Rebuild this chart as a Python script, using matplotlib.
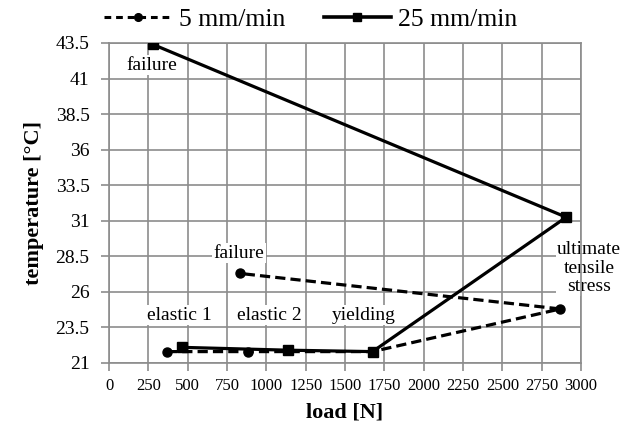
import matplotlib
matplotlib.use("Agg")
import matplotlib.pyplot as plt

# load [N] and temperature [°C] at each stage: elastic 1, elastic 2, yielding, UTS, failure
load_5 = [368, 882, 1675, 2868, 831]
temp_5 = [21.8, 21.8, 21.8, 24.8, 27.3]
load_25 = [463, 1136, 1675, 2906, 279]
temp_25 = [22.1, 21.9, 21.8, 31.25, 43.4]

x_ticks = list(range(0, 3001, 250))
y_ticks = [21, 23.5, 26, 28.5, 31, 33.5, 36, 38.5, 41, 43.5]

plt.rcParams['font.family'] = ['Liberation Serif', 'DejaVu Serif']

fig = plt.figure(figsize=(6.25, 4.33), dpi=100)
ax = fig.add_axes([0.1744, 0.1617, 0.7552, 0.7390])

grid_col = '#8c8c8c'
ax.plot(load_5, temp_5, color='black', linestyle=(0, (3.2, 1.6)), linewidth=2.3,
        marker='o', markersize=6.5, label='5 mm/min', zorder=3)
ax.plot(load_25, temp_25, color='black', linestyle='-', linewidth=2.3,
        marker='s', markersize=6.5, label='25 mm/min', zorder=3)

ax.set_xlim(0, 3000)
ax.set_ylim(21, 43.5)
ax.set_xticks(x_ticks)
ax.set_yticks(y_ticks)
ax.set_yticklabels([f'{v:g}' for v in y_ticks])
ax.grid(True, color=grid_col, linewidth=1.2)
ax.set_axisbelow(True)
for s in ax.spines.values():
    s.set_color(grid_col)
    s.set_linewidth(1.2)
ax.tick_params(axis='both', colors=grid_col, length=6, width=1.2, labelcolor='black')
ax.tick_params(axis='x', labelsize=12, pad=5)
ax.tick_params(axis='y', labelsize=14, pad=8)

ax.set_xlabel('load [N]', fontsize=16, fontweight='bold', labelpad=6)
ax.set_ylabel('temperature [°C]', fontsize=16, fontweight='bold', labelpad=8)

box = dict(facecolor='white', edgecolor='none', pad=1)
ax.text(272, 41.93, 'failure', fontsize=14, ha='center', va='center', bbox=box, zorder=2)
ax.text(826, 28.72, 'failure', fontsize=14, ha='center', va='center', bbox=box, zorder=2)
ax.text(450, 24.37, 'elastic 1', fontsize=14, ha='center', va='center', bbox=box, zorder=2)
ax.text(1022, 24.37, 'elastic 2', fontsize=14, ha='center', va='center', bbox=box, zorder=2)
ax.text(1618, 24.37, 'yielding', fontsize=14, ha='center', va='center', bbox=box, zorder=2)
ax.text(3052, 27.67, 'ultimate\ntensile\nstress', fontsize=14, ha='center', va='center',
        linespacing=1.1, bbox=box, zorder=2, clip_on=False)

leg = ax.legend(loc='center', bbox_to_anchor=(0.428, 1.073), ncol=2, frameon=False,
                fontsize=18.5, handlelength=2.6, handletextpad=0.3, columnspacing=1.5,
                borderaxespad=0, markerscale=0.85)
leg_lines = leg.get_lines()
leg_lines[0].set_linewidth(2.2)
leg_lines[0].set_dashes([2.2, 1.6])
leg_lines[1].set_linewidth(2.6)

fig.savefig('out.png', dpi=100)
